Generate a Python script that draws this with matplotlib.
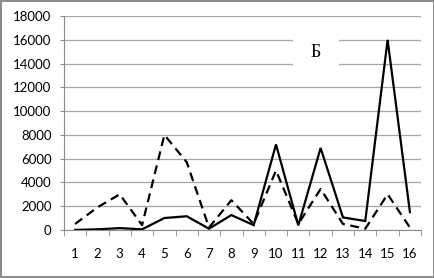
import matplotlib.pyplot as plt
import numpy as np

days = list(range(1, 17))
solid = [0, 50, 150, 50, 1000, 1150, 100, 1250, 400, 7200, 380, 6900, 1050, 750, 16000, 1500]
dashed = [500, 1900, 3000, 400, 8000, 5700, 200, 2500, 500, 5000, 500, 3450, 500, 100, 3000, 200]
yticks = list(range(0, 18001, 2000))

fig = plt.figure(figsize=(4.35, 2.78), dpi=100)
fig.patch.set_edgecolor('#8c8c8c')
fig.patch.set_linewidth(1.5)
ax = fig.add_axes([0.147, 0.173, 0.821, 0.769])

ax.plot(days, solid, color='black', lw=1.6, solid_joinstyle='miter')
ax.plot(days, dashed, color='black', lw=1.6, ls=(0, (4, 2.5)))

ax.set_xlim(0.5, 16.5)
ax.set_ylim(0, 18000)
ax.set_yticks(yticks)
ax.set_xticks(days)
ax.set_xticks(np.arange(0.5, 17, 1), minor=True)
ax.grid(axis='y', color='#a6a6a6', lw=0.9)
ax.set_axisbelow(True)

for s in ['top', 'right']:
    ax.spines[s].set_visible(False)
for s in ['left', 'bottom']:
    ax.spines[s].set_color('#8c8c8c')

ax.tick_params(axis='x', which='major', length=0, pad=13, labelsize=9.5)
ax.tick_params(axis='x', which='minor', length=4, color='#8c8c8c')
ax.tick_params(axis='y', length=3, color='#8c8c8c', pad=6, labelsize=9.5)
for lab in ax.get_xticklabels() + ax.get_yticklabels():
    lab.set_family('Lato')

ax.text(0.706, 0.83, 'Б', transform=ax.transAxes, ha='center', va='center',
        fontsize=13, family='Liberation Serif',
        bbox=dict(boxstyle='square,pad=1.0', fc='white', ec='none'))

fig.savefig('out.png', dpi=100)
